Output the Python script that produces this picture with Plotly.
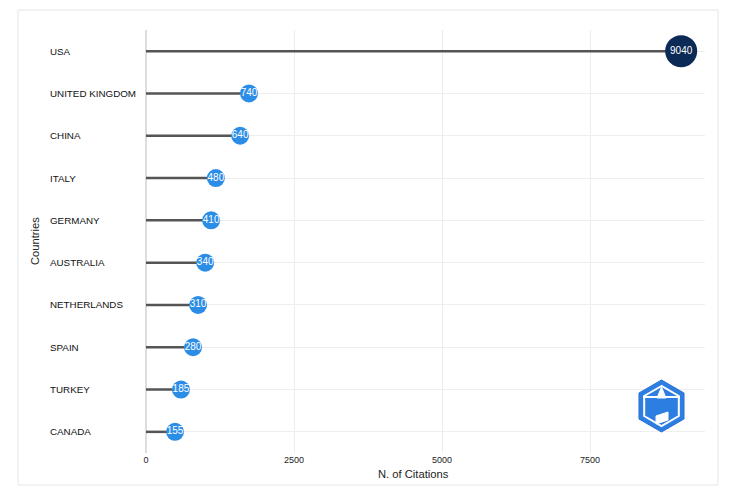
import plotly.graph_objects as go
import math

countries = ["USA", "UNITED KINGDOM", "CHINA", "ITALY", "GERMANY", "AUSTRALIA",
             "NETHERLANDS", "SPAIN", "TURKEY", "CANADA"]
positions = [9040, 1740, 1590, 1180, 1100, 1000, 880, 795, 590, 490]
labels = ["9040", "740", "640", "480", "410", "340", "310", "280", "185", "155"]
x_ticks = [0, 2500, 5000, 7500]

W, H = 742, 494
OFF = 8  # page offset
L, T = 146 - OFF, 30 - OFF
PW, PH = 705 - 146, 453 - 30
R, B = W - L - PW, H - T - PH

def px(x):
    return (x - OFF - L) / PW

def py(y):
    return (T + PH - (y - OFF)) / PH

fig = go.Figure()

sx, sy = [], []
for c, v in zip(countries, positions):
    sx += [0, v, None]
    sy += [c, c, None]
fig.add_trace(go.Scatter(x=sx, y=sy, mode="lines",
                         line=dict(color="#555555", width=2.5),
                         hoverinfo="skip", showlegend=False))

sizes = [32 if v > 5000 else 18 for v in positions]
colors = ["#0b2a55" if v > 5000 else "#2c8de6" for v in positions]
fig.add_trace(go.Scatter(x=positions, y=countries, mode="markers+text",
                         marker=dict(size=sizes, color=colors, line=dict(width=0), opacity=1),
                         text=labels, textposition="middle center",
                         textfont=dict(color="white", size=10, family="Liberation Sans"),
                         showlegend=False))

annotations = []
for c in countries:
    annotations.append(dict(xref="paper", yref="y", x=px(48), y=c, text=c,
                            showarrow=False, xanchor="left", yanchor="middle",
                            font=dict(size=9.8, color="#111111", family="Liberation Sans")))
annotations.append(dict(xref="paper", yref="paper", x=px(413), y=py(474), text="N. of Citations",
                        showarrow=False, xanchor="center", yanchor="middle",
                        font=dict(size=11.2, color="#222222", family="Liberation Sans")))
annotations.append(dict(xref="paper", yref="paper", x=px(35), y=py(241), text="Countries",
                        showarrow=False, textangle=-90, xanchor="center", yanchor="middle",
                        font=dict(size=11.2, color="#222222", family="Liberation Sans")))

shapes = [dict(type="rect", xref="paper", yref="paper", layer="below",
               x0=px(18), x1=px(718), y0=py(485), y1=py(10),
               line=dict(color="#e6e6e6", width=1), fillcolor="rgba(0,0,0,0)")]

# logo (decoration): hexagon
cx, cy = 661.5, 406
def hexpath(rad):
    pts = []
    for k in range(6):
        a = math.radians(90 + 60 * k)
        pts.append((px(cx + rad * math.cos(a)), py(cy - rad * math.sin(a))))
    return "M " + " L ".join(f"{a:.5f},{b:.5f}" for a, b in pts) + " Z"
shapes.append(dict(type="path", xref="paper", yref="paper", path=hexpath(26),
                   fillcolor="#2c7fe0", line=dict(color="#2c6fd6", width=1)))
shapes.append(dict(type="path", xref="paper", yref="paper", path=hexpath(20),
                   fillcolor="rgba(0,0,0,0)", line=dict(color="white", width=2)))
shapes.append(dict(type="line", xref="paper", yref="paper",
                   x0=px(643), x1=px(680), y0=py(397), y1=py(397),
                   line=dict(color="white", width=2)))
shapes.append(dict(type="path", xref="paper", yref="paper",
                   path=f"M {px(656)},{py(416)} L {px(668)},{py(412)} L {px(668)},{py(420)} L {px(656)},{py(424)} Z",
                   fillcolor="white", line=dict(color="white", width=1)))
shapes.append(dict(type="path", xref="paper", yref="paper",
                   path=f"M {px(657)},{py(398)} L {px(661.5)},{py(387)} L {px(666)},{py(398)} Z",
                   fillcolor="white", line=dict(color="white", width=1)))

fig.update_layout(
    width=W, height=H,
    margin=dict(l=L, r=R, t=T, b=B),
    paper_bgcolor="white", plot_bgcolor="white",
    font=dict(family="Liberation Sans", color="#333333"),
    xaxis=dict(range=[0, PW / 0.0592], tickvals=x_ticks, ticktext=[str(t) for t in x_ticks],
               showgrid=True, gridcolor="#ececec", gridwidth=1,
               zeroline=True, zerolinecolor="#dddddd", zerolinewidth=2,
               showline=False, ticks="", tickfont=dict(size=9, color="#222222"),
               fixedrange=True),
    yaxis=dict(categoryorder="array", categoryarray=countries,
               autorange=False, range=[9.5, -0.5], showticklabels=False, showgrid=True,
               gridcolor="#eeeeee", gridwidth=1, zeroline=False, ticks=""),
    annotations=annotations, shapes=shapes,
    showlegend=False,
)

fig.write_html("out.html")
